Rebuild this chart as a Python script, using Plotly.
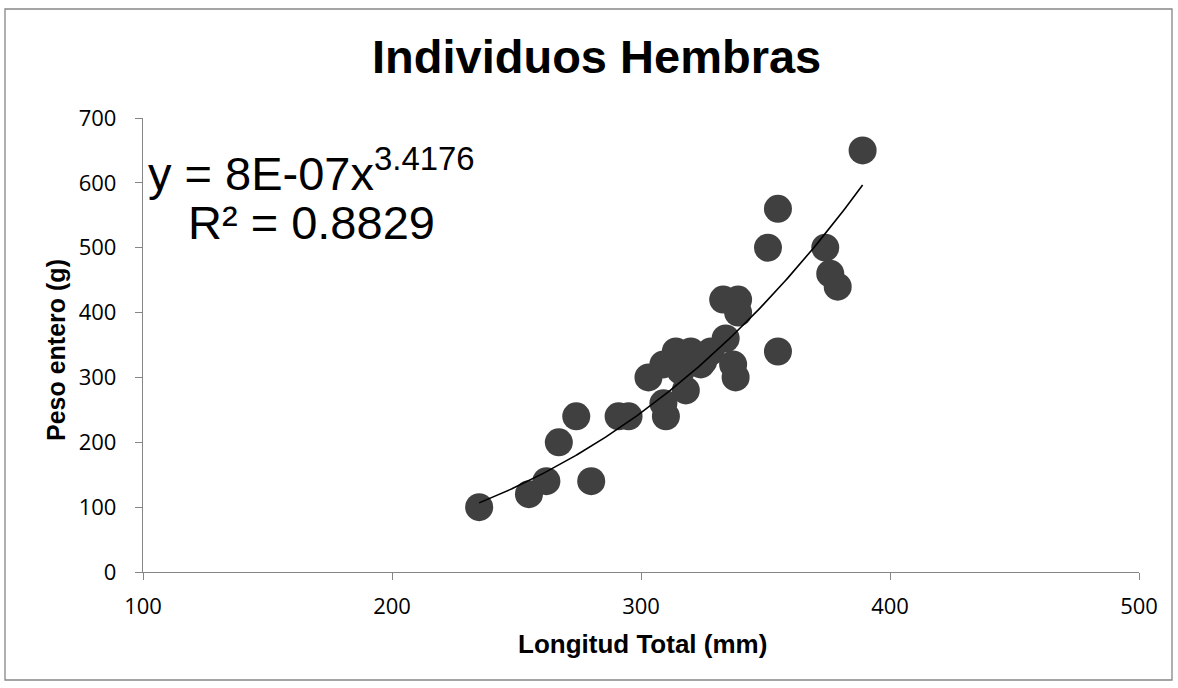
import numpy as np
import plotly.graph_objects as go

longitud = [235, 255, 262, 280, 267, 274, 291, 295, 310, 309, 303, 318, 309, 314, 320,
            324, 316, 328, 325, 334, 333, 339, 339, 337, 338, 355, 351, 355, 374, 376, 379, 389]
peso = [100, 120, 140, 140, 200, 240, 240, 240, 240, 260, 300, 280, 320, 340, 340,
        320, 310, 340, 325, 360, 420, 420, 400, 320, 300, 340, 500, 560, 500, 460, 440, 650]

coef_a = 8.4e-7
coef_b = 3.4176
x_ticks = [100, 200, 300, 400, 500]
y_ticks = [0, 100, 200, 300, 400, 500, 600, 700]

xt = np.linspace(min(longitud), max(longitud), 200)
yt = coef_a * xt ** coef_b

W, H = 1178, 688
L, R, T, B = 143, 1139, 118, 572

def px(x):
    return (x - L) / (R - L)

def py(y):
    return (B - y) / (B - T)

fig = go.Figure()
fig.add_trace(go.Scatter(x=longitud, y=peso, mode="markers",
                         marker=dict(size=28, color="#404040", line=dict(width=0)),
                         showlegend=False, hoverinfo="x+y"))
fig.add_trace(go.Scatter(x=xt, y=yt, mode="lines", line=dict(color="black", width=1.6),
                         showlegend=False, hoverinfo="skip"))

tickfont = dict(family="Open Sans, sans-serif", size=22, color="#000")
titlefont = dict(family="Liberation Sans, Arial, sans-serif", size=25, color="#000")
fig.update_xaxes(range=[100, 500], tickvals=x_ticks, showgrid=False, zeroline=False,
                 showline=True, linecolor="#868686", linewidth=1.3,
                 ticks="outside", ticklen=7, tickcolor="#868686", tickfont=tickfont,
                 ticklabelstandoff=7)
fig.update_yaxes(range=[0, 700], tickvals=y_ticks, showgrid=False, zeroline=False,
                 showline=True, linecolor="#868686", linewidth=1.3,
                 ticks="outside", ticklen=7, tickcolor="#868686", tickfont=tickfont,
                 ticklabelstandoff=14)

fig.update_layout(
    width=W, height=H, autosize=False,
    margin=dict(l=L, r=W - R, t=T, b=H - B),
    plot_bgcolor="white", paper_bgcolor="white",
    shapes=[dict(type="rect", xref="paper", yref="paper",
                 x0=px(5), x1=px(1172), y0=py(680), y1=py(9),
                 line=dict(color="#868686", width=1.3), fillcolor="rgba(0,0,0,0)", layer="below")],
    annotations=[
        dict(text="<b>Individuos Hembras</b>", xref="paper", yref="paper",
             x=px(596), y=py(56), showarrow=False, xanchor="center", yanchor="middle",
             font=dict(family="Liberation Sans, Arial, sans-serif", size=47, color="#000")),
        dict(text="y = 8E-07x<sup>3.4176</sup>", xref="paper", yref="paper",
             x=px(146), y=py(170), showarrow=False, xanchor="left", yanchor="middle",
             font=dict(family="Liberation Sans, Arial, sans-serif", size=47, color="#000")),
        dict(text="R² = 0.8829", xref="paper", yref="paper",
             x=px(186), y=py(222), showarrow=False, xanchor="left", yanchor="middle",
             font=dict(family="Liberation Sans, Arial, sans-serif", size=47, color="#000")),
        dict(text="<b>Longitud Total (mm)</b>", xref="paper", yref="paper",
             x=px(642), y=py(644), showarrow=False, xanchor="center", yanchor="middle",
             font=dict(family="Liberation Sans, Arial, sans-serif", size=26, color="#000")),
        dict(text="<b>Peso entero (g)</b>", xref="paper", yref="paper",
             x=px(56), y=py(350), showarrow=False, xanchor="center", yanchor="middle",
             textangle=-90, font=titlefont),
    ],
)

fig.write_html("out.html")
